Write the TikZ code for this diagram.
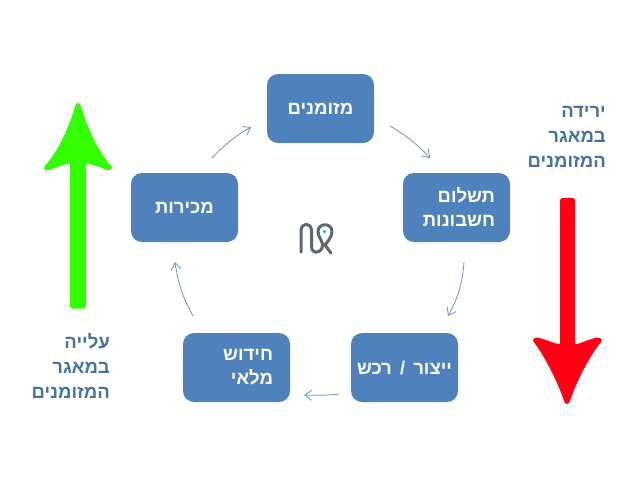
\documentclass[tikz,border=0pt]{standalone}
\usepackage{fontspec}
\setmainfont[Script=Hebrew]{Liberation Sans}
\TeXXeTstate=1
\usetikzlibrary{arrows.meta}
\definecolor{boxblue}{HTML}{4F81BD}
\definecolor{linkblue}{HTML}{6F94BE}
\definecolor{upgreen}{HTML}{33FF00}
\definecolor{downred}{HTML}{FF0015}
\definecolor{logogray}{HTML}{5F6770}
\definecolor{logogreen}{HTML}{4DB882}
\newcommand{\rl}[1]{\beginR #1\endR}
\tikzset{
 x=1pt,y=-1pt,
 box/.style={fill=boxblue,draw=none,rounded corners=11pt,minimum width=107pt,minimum height=69pt,inner sep=0pt,text=white,font=\fontsize{18.5}{24}\selectfont\bfseries},
 boxr/.style={box,text width=77pt,align=right},
 boxc/.style={box,align=center},
 link/.style={draw=linkblue,line width=0.8pt,-{Straight Barb[length=7pt,width=10pt,line width=0.8pt]}},
 side/.style={text=boxblue!88!black,font=\fontsize{18.5}{24.7}\selectfont\bfseries,align=right,inner sep=0pt},
}
\begin{document}
\begin{tikzpicture}
\useasboundingbox (0,0) rectangle (640,480);
\fill[white] (0,0) rectangle (640,480);
\node[boxc] (cash) at (320.5,108.5) {\rl{מזומנים}};
\node[boxr] (pay) at (456.5,207.5) {\rl{תשלום}\\\rl{חשבונות}};
\node[boxc] (make) at (404.5,367.5) {\rl{ייצור\hspace{3pt} / \hspace{3pt}רכש}};
\node[boxr,text width=73pt] (stock) at (236.5,367.5) {\rl{חידוש}\\\rl{מלאי}};
\node[boxc] (sales) at (184.5,207.5) {\rl{מכירות}};
\coordinate (a1) at (390,126); \coordinate (b1) at (430,158);
\coordinate (a2) at (464,262); \coordinate (b2) at (448,316);
\coordinate (a3) at (339,394); \coordinate (b3) at (304,395);
\coordinate (a4) at (193,316); \coordinate (b4) at (175,262);
\coordinate (a5) at (212,158); \coordinate (b5) at (251,127);
\draw[link] (a1) to[bend left=8] (b1);
\draw[link] (a2) to[bend left=12] (b2);
\draw[link] (a3) to[bend left=4] (b3);
\draw[link] (a4) to[bend left=10] (b4);
\draw[link] (a5) to[bend left=8] (b5);
% green arrow
\fill[upgreen,rounded corners=2.5pt] (70,308.5) -- (70,163) .. controls (62,165) and (54,168) .. (47,171) -- (43,168) .. controls (58,152) and (70,125) .. (76,103) -- (80,103) .. controls (86,125) and (98,152) .. (113,168) -- (109,171) .. controls (102,168) and (94,165) .. (86,163) -- (86,308.5) -- cycle;
% red arrow
\fill[downred,rounded corners=2.5pt] (560,198) -- (575,198) -- (575,345) .. controls (583,342) and (591,339) .. (598,337) -- (603,340) .. controls (589,356) and (575,385) .. (569,404) -- (565,404) .. controls (559,385) and (545,356) .. (532,340) -- (536,337) .. controls (543,339) and (552,342) .. (560,345) -- cycle;
% logo
\draw[logogray,line width=3pt,line cap=round,line join=round] (301,252) -- (301,231) .. controls (301,222) and (311.5,222) .. (311.5,231) -- (311.5,246) .. controls (311.5,254) and (319,254) .. (322,248) .. controls (325,243) and (318,238) .. (318,231.5) .. controls (318,222.5) and (332,222.5) .. (332,231.5) .. controls (332,238) and (326,243) .. (325,245) -- (331,253);
\fill[logogreen] (324.5,231.5) circle (1.8);
% side texts
\node[side,anchor=north east] (down) at (606,106.5) {\rl{ירידה}\\\rl{במאגר}\\\rl{המזומנים}};
\node[side,anchor=north east] (up) at (110,333.5) {\rl{עלייה}\\\rl{במאגר}\\\rl{המזומנים}};
\end{tikzpicture}
\end{document}
